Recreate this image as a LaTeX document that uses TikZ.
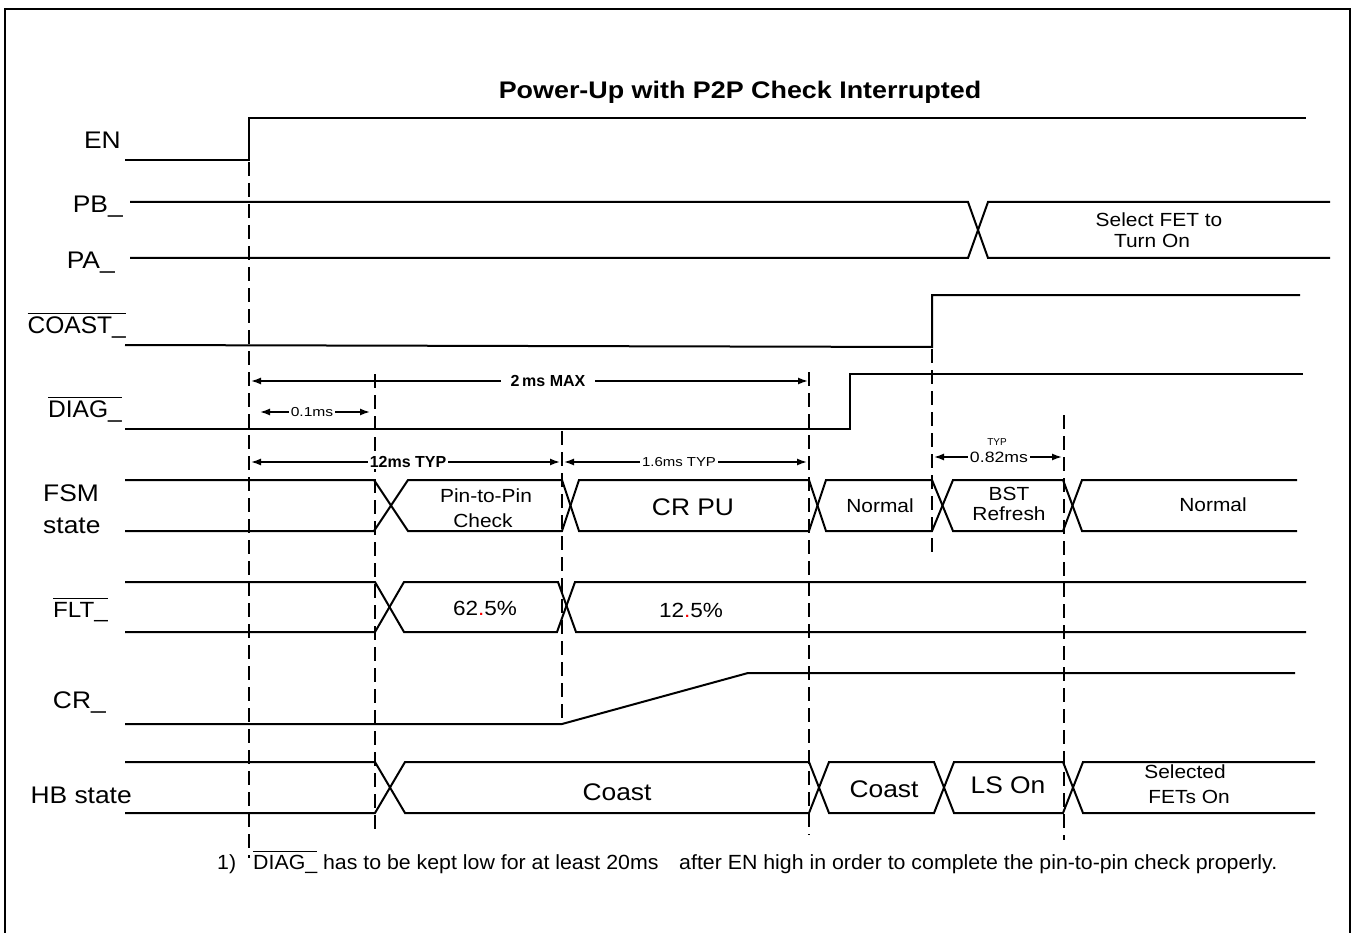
\documentclass[tikz,border=0pt]{standalone}
\usepackage{fontspec}
\setmainfont{Liberation Sans}
\usetikzlibrary{arrows.meta}
\newcommand\myovl[1]{\vbox{\hrule height 1.1pt\kern 2.5pt\hbox{#1}}}
\newcommand\fz[1]{\fontsize{#1}{#1}\selectfont}
\begin{document}
\begin{tikzpicture}[x=1pt,y=-1pt,
  sig/.style={line width=2pt, line join=miter},
  vdash/.style={line width=2pt, dash pattern=on 14pt off 7pt},
  dim/.style={line width=1.5pt, {Latex[length=10pt,width=7pt]}-{Latex[length=10pt,width=7pt]}},
  lab/.style={font=\fz{24}, inner sep=0pt, xscale=1.1, anchor=base east},
  labw/.style={font=\fz{24}, inner sep=0pt, xscale=1.1, anchor=base west},
  st/.style={font=\fz{19}, inner sep=0pt, xscale=1.1, anchor=base},
  bigst/.style={font=\fz{24}, inner sep=0pt, xscale=1.1, anchor=base},
  dimtxt/.style={fill=white, inner sep=1.5pt}
]
\useasboundingbox (0,0) rectangle (1354,933);
% frame
\draw[line width=1.5pt] (5,945) -- (5,9) -- (1350,9) -- (1350,945);
% title
\node[font=\bfseries\fz{24}, xscale=1.12, anchor=base, inner sep=0pt] (title) at (740,99) {Power-Up with P2P Check Interrupted};

% signal labels
\node[lab] (lEN) at (121,149) {EN};
\node[lab] (lPB) at (123,213) {PB\_};
\node[lab] (lPA) at (115,269) {PA\_};
\node[lab, xscale=0.93] (lCOAST) at (126,333) {\myovl{COAST\_}};
\node[lab, xscale=0.93] (lDIAG) at (122,417) {\myovl{DIAG\_}};
\node[labw] (lFSM) at (43,501) {FSM};
\node[labw] (lstate) at (43,533) {state};
\node[lab, font=\fz{22}, xscale=1.0] (lFLT) at (108,617) {\myovl{FLT\_}};
\node[lab] (lCR) at (106,708) {CR\_};
\node[lab] (lHB) at (132,803) {HB state};

% EN
\draw[sig] (125,160) -- (249,160) -- (249,118) -- (1306,118);
% PB / PA
\draw[sig] (130,202) -- (968,202) -- (988,258) -- (1330,258);
\draw[sig] (130,258) -- (968,258) -- (988,202) -- (1330,202);
\node[st] (tsel1) at (1159,227) {Select FET to};
\node[st] (tsel2) at (1152,248) {Turn On};
% COAST
\draw[sig] (125,345) -- (932,347) -- (932,295) -- (1300,295);
% DIAG
\draw[sig] (125,429) -- (850,429) -- (850,374) -- (1303,374);
% FSM
\draw[sig] (125,480) -- (374,480) -- (408,531) -- (562,531) -- (579,480) -- (809,480) -- (826,531) -- (932,531) -- (953,480) -- (1063,480) -- (1082,531) -- (1297,531);
\draw[sig] (125,531) -- (374,531) -- (408,480) -- (562,480) -- (579,531) -- (809,531) -- (826,480) -- (932,480) -- (953,531) -- (1063,531) -- (1082,480) -- (1297,480);
\node[st] (tp2p1) at (486,502) {Pin-to-Pin};
\node[st] (tp2p2) at (483,527) {Check};
\node[bigst] (tcrpu) at (693,515) {CR PU};
\node[st] (tnorm1) at (880,512) {Normal};
\node[st] (tbst1) at (1009,500) {BST};
\node[st] (tbst2) at (1009,520) {Refresh};
\node[st] (tnorm2) at (1213,511) {Normal};
% FLT
\draw[sig] (125,582) -- (375,582) -- (404,632) -- (557,632) -- (575,582) -- (1306,582);
\draw[sig] (125,632) -- (375,632) -- (404,582) -- (558,582) -- (576,632) -- (1306,632);
\node[st, font=\fz{20.5}] (t625) at (485,615) {62{\color{red}.}5\%};
\node[st, font=\fz{20.5}] (t125) at (691,617) {12{\color{red}.}5\%};
% CR
\draw[sig] (125,724) -- (562,724) -- (748,673) -- (1295,673);
% HB
\draw[sig] (125,762) -- (375,762) -- (405,813) -- (809,813) -- (829,762) -- (934,762) -- (954,813) -- (1063,813) -- (1083,762) -- (1315,762);
\draw[sig] (125,813) -- (375,813) -- (405,762) -- (809,762) -- (829,813) -- (934,813) -- (954,762) -- (1063,762) -- (1083,813) -- (1315,813);
\node[bigst] (tcoast1) at (617,800) {Coast};
\node[bigst] (tcoast2) at (884,797) {Coast};
\node[bigst] (tlson) at (1008,793) {LS On};
\node[st] (tsf1) at (1185,778) {Selected};
\node[st] (tsf2) at (1189,803) {FETs On};

% dashed verticals
\draw[vdash] (249,162) -- (249,858);
\draw[vdash] (375,374) -- (375,835);
\draw[vdash] (562,431) -- (562,724);
\draw[vdash] (809,372) -- (809,835);
\draw[vdash] (932,349) -- (932,552);
\draw[vdash] (1064,415) -- (1064,840);

% dimensions
\draw[dim] (251,381) -- (808,381);
\node[dimtxt, font=\bfseries\fz{16}, inner xsep=10pt] (d2ms) at (548,381) {2\,ms MAX};
\draw[dim] (260,412) -- (370,412);
\node[dimtxt, font=\fz{13}, xscale=1.2] (d01) at (312,412) {0.1ms};
\draw[dim] (251,462) -- (560,462);
\node[dimtxt, font=\bfseries\fz{16}] (d12) at (408,462) {12ms TYP};
\draw[dim] (564,462) -- (807,462);
\node[dimtxt, font=\fz{13}, xscale=1.15] (d16) at (679,462) {1.6ms TYP};
\draw[dim] (934,457) -- (1062,457);
\node[dimtxt, font=\fz{15}, xscale=1.18] (d082) at (999,457) {0.82ms};
\node[font=\fz{10}, inner sep=0pt] (dtyp) at (997,442) {TYP};

% footnote
\node[anchor=base west, font=\fz{20.5}, xscale=1.04, inner sep=0pt] (fn1) at (217,869) {1)};
\node[anchor=base west, font=\fz{20.5}, xscale=1.04, inner sep=0pt] (fn2) at (253,869) {\myovl{DIAG\_} has to be kept low for at least 20ms\hspace{20pt}after EN high in order to complete the pin-to-pin check properly.};
\end{tikzpicture}
\end{document}
